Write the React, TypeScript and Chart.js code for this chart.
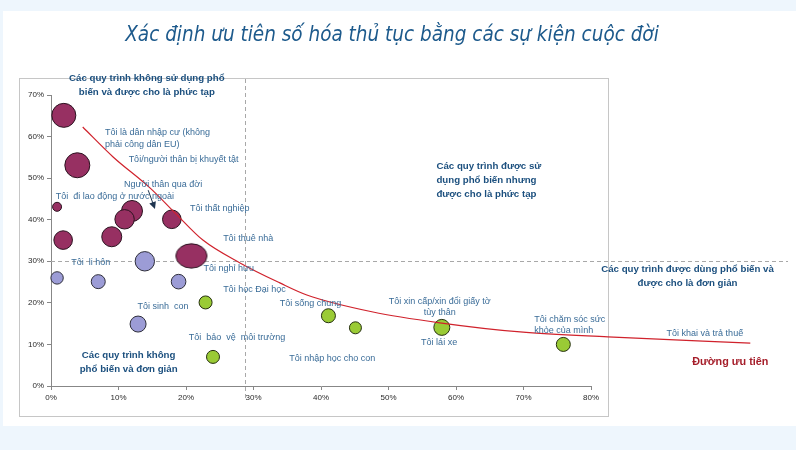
import React, { useEffect, useRef } from "react";
import { Chart, registerables } from "chart.js";

Chart.register(...registerables);

const TITLE = "Xác định ưu tiên số hóa thủ tục bằng các sự kiện cuộc đời";

// Processes seen as complex (maroon)
const complexX = [1.9, 3.9, 0.9, 12.0, 10.9, 17.9, 1.8, 9.0, 20.8];
const complexY = [65.1, 53.1, 43.1, 42.1, 40.1, 40.1, 35.1, 35.9, 31.3];
const complexR = [12, 12.5, 4.5, 10.5, 9.7, 9.3, 9.3, 10, 13.5];
const RETIREMENT_INDEX = 8; // drawn as a wide bubble

// Rare, mid processes (lavender)
const rareX = [0.9, 7.0, 13.9, 18.9, 12.9];
const rareY = [26.0, 25.1, 30.0, 25.1, 14.9];
const rareR = [6.2, 7, 9.7, 7.3, 8];

// Simple processes (green)
const simpleX = [22.9, 24.0, 41.1, 45.1, 57.9, 75.9];
const simpleY = [20.1, 7.0, 16.9, 14.0, 14.1, 10.0];
const simpleR = [6.5, 6.5, 7, 6, 8, 7];

// Priority curve
const curveX = [4.7, 9.2, 14.7, 18.4, 22.5, 28.0, 33.9, 37.9, 47.7, 57.6, 69.5, 82.5, 103.6];
const curveY = [62.3, 55.1, 47.6, 41.6, 35.1, 29.6, 24.8, 21.9, 17.8, 15.2, 13.0, 11.8, 10.3];

// Axis ranges / tick step
const X_MAX = 80;
const Y_MAX = 70;
const TICK_STEP = 10;

// Quadrant dividers
const DIVIDER_X = 28.8;
const DIVIDER_Y = 30;

// Event labels
const eventLabels = [
  "Tôi là dân nhập cư (không\nphải công dân EU)",
  "Tôi/người thân bị khuyết tật",
  "Người thân qua đời",
  "Tôi  đi lao động ở nước ngoài",
  "Tôi thất nghiệp",
  "Tôi thuê nhà",
  "Tôi nghỉ hưu",
  "Tôi học Đại học",
  "Tôi  li hôn",
  "Tôi sinh  con",
  "Tôi  bảo  vệ  môi trường",
  "Tôi sống chung",
  "Tôi nhập học cho con",
  "Tôi xin cấp/xin đổi giấy tờ\ntùy thân",
  "Tôi lái xe",
  "Tôi chăm sóc sức\nkhỏe của mình",
  "Tôi khai và trả thuế",
];
const eventLabelX = [8.0, 11.5, 10.8, 0.7, 20.6, 25.5, 22.6, 25.5, 3.0, 12.8, 20.4, 33.9, 35.3, 57.6, 57.5, 71.6, 91.2];
const eventLabelY = [60.9, 54.4, 48.4, 45.5, 42.7, 35.4, 28.3, 23.3, 29.7, 19.2, 11.7, 19.9, 6.7, 20.3, 10.4, 16.1, 12.6];
const eventLabelAlign = ["left", "left", "left", "left", "left", "left", "left", "left", "left", "left", "left", "left", "left", "center", "center", "left", "left"];

// Quadrant labels
const quadrantLabels = [
  "Các quy trình không sử dụng phổ\nbiến và được cho là phức tạp",
  "Các quy trình được sử\ndụng phổ biến nhưng\nđược cho là phức tạp",
  "Các quy trình được dùng phổ biến và\nđược cho là đơn giản",
  "Các quy trình không\nphổ biến và đơn giản",
];
const quadrantX = [14.2, 57.1, 94.3, 11.5];
const quadrantY = [74.1, 52.9, 28.1, 7.3];
const quadrantAlign = ["center", "left", "center", "center"];

const CURVE_LABEL = "Đường ưu tiên";
const CURVE_LABEL_X = 95.0;
const CURVE_LABEL_Y = 5.8;

// Arrow from "Người thân qua đời"
const arrowFrom = [14.4, 47.1];
const arrowTo = [15.4, 42.6];

const SANS = '"Liberation Sans", Arial, sans-serif';
const TITLE_FONT = '"DejaVu Sans Condensed", "DejaVu Sans", sans-serif';

const COMPLEX_FILL = "#973062";
const COMPLEX_BORDER = "#2b1320";

function drawLines(ctx: CanvasRenderingContext2D, text: string, px: number, py: number, lh: number) {
  text.split("\n").forEach((line, i) => ctx.fillText(line, px, py + i * lh));
}

function makeEllipse(r: number): HTMLCanvasElement {
  const rx = r * 1.15, ry = r * 0.9;
  const c = document.createElement("canvas");
  c.width = 2 * Math.ceil(rx + 1);
  c.height = 2 * Math.ceil(ry + 1);
  const g = c.getContext("2d")!;
  g.globalAlpha = 1;
  g.beginPath();
  g.ellipse(c.width / 2, c.height / 2, rx, ry, 0, 0, Math.PI * 2);
  g.fillStyle = COMPLEX_FILL;
  g.fill();
  g.lineWidth = 1;
  g.strokeStyle = COMPLEX_BORDER;
  g.stroke();
  return c;
}

const decorPlugin = {
  id: "decor",
  beforeDraw(chart: any) {
    const { ctx, width, height } = chart;
    ctx.save();
    ctx.fillStyle = "#eef6fd";
    ctx.fillRect(0, 0, width, height);
    ctx.fillStyle = "#ffffff";
    ctx.fillRect(3, 11, width - 3, 415);
    ctx.strokeStyle = "#c6c6c6";
    ctx.lineWidth = 1;
    ctx.strokeRect(19.5, 78.5, 589, 338);
    // title
    ctx.fillStyle = "#1d5a8c";
    ctx.font = `italic 20.5px ${TITLE_FONT}`;
    ctx.textAlign = "center";
    ctx.textBaseline = "middle";
    ctx.fillText(TITLE, 392, 36);
    ctx.restore();
  },
  beforeDatasetsDraw(chart: any) {
    const { ctx, scales } = chart;
    const xs = scales.x, ys = scales.y;
    ctx.save();
    ctx.strokeStyle = "#a8a8a8";
    ctx.lineWidth = 1;
    ctx.setLineDash([4, 3]);
    const vx = Math.round(xs.getPixelForValue(DIVIDER_X)) + 0.5;
    ctx.beginPath();
    ctx.moveTo(vx, 79);
    ctx.lineTo(vx, ys.bottom + 14);
    ctx.stroke();
    const hy = Math.round(ys.getPixelForValue(DIVIDER_Y)) + 0.5;
    ctx.beginPath();
    ctx.moveTo(xs.left, hy);
    ctx.lineTo(788, hy);
    ctx.stroke();
    ctx.restore();
  },
  afterDatasetsDraw(chart: any) {
    const { ctx, scales } = chart;
    const xs = scales.x, ys = scales.y;
    ctx.save();
    ctx.textBaseline = "middle";
    // event labels
    ctx.fillStyle = "#3a6c98";
    ctx.font = `9px ${SANS}`;
    eventLabels.forEach((t, i) => {
      ctx.textAlign = eventLabelAlign[i] as CanvasTextAlign;
      drawLines(ctx, t, xs.getPixelForValue(eventLabelX[i]), ys.getPixelForValue(eventLabelY[i]), 11.3);
    });
    // quadrant labels
    ctx.fillStyle = "#1b4f7e";
    ctx.font = `bold 9.7px ${SANS}`;
    quadrantLabels.forEach((t, i) => {
      ctx.textAlign = quadrantAlign[i] as CanvasTextAlign;
      drawLines(ctx, t, xs.getPixelForValue(quadrantX[i]), ys.getPixelForValue(quadrantY[i]), 14);
    });
    // curve label
    ctx.fillStyle = "#a51d29";
    ctx.font = `bold 10.8px ${SANS}`;
    ctx.textAlign = "left";
    ctx.fillText(CURVE_LABEL, xs.getPixelForValue(CURVE_LABEL_X), ys.getPixelForValue(CURVE_LABEL_Y));
    // arrow
    const x1 = xs.getPixelForValue(arrowFrom[0]), y1 = ys.getPixelForValue(arrowFrom[1]);
    const x2 = xs.getPixelForValue(arrowTo[0]), y2 = ys.getPixelForValue(arrowTo[1]);
    const ang = Math.atan2(y2 - y1, x2 - x1);
    ctx.strokeStyle = "#1e3550";
    ctx.fillStyle = "#1e3550";
    ctx.lineWidth = 1;
    ctx.beginPath();
    ctx.moveTo(x1, y1);
    ctx.lineTo(x2 - 4 * Math.cos(ang), y2 - 4 * Math.sin(ang));
    ctx.stroke();
    ctx.beginPath();
    ctx.moveTo(x2, y2);
    ctx.lineTo(x2 - 7 * Math.cos(ang) + 3.5 * Math.sin(ang), y2 - 7 * Math.sin(ang) - 3.5 * Math.cos(ang));
    ctx.lineTo(x2 - 7 * Math.cos(ang) - 3.5 * Math.sin(ang), y2 - 7 * Math.sin(ang) + 3.5 * Math.cos(ang));
    ctx.closePath();
    ctx.fill();
    ctx.restore();
  },
};

function toPoints(xs: number[], ys: number[], rs?: number[]) {
  return xs.map((x, i) => (rs ? { x, y: ys[i], r: rs[i] } : { x, y: ys[i] }));
}

export default function App() {
  const ref = useRef<HTMLCanvasElement | null>(null);

  useEffect(() => {
    if (!ref.current) return;
    const axisColor = "#878787";
    const wide = makeEllipse(complexR[RETIREMENT_INDEX]);
    const chart = new Chart(ref.current, {
      type: "bubble",
      data: {
        datasets: [
          {
            type: "line",
            label: "Đường ưu tiên",
            data: toPoints(curveX, curveY),
            borderColor: "#d0222c",
            borderWidth: 1.2,
            pointRadius: 0,
            cubicInterpolationMode: "monotone",
            fill: false,
            clip: false,
            order: 0,
          } as any,
          {
            label: "Phức tạp",
            data: toPoints(complexX, complexY, complexR),
            backgroundColor: COMPLEX_FILL,
            borderColor: COMPLEX_BORDER,
            borderWidth: 1,
            pointStyle: (c: any) => (c.dataIndex === RETIREMENT_INDEX ? wide : "circle"),
            clip: false,
            order: 1,
          } as any,
          {
            label: "Không phổ biến",
            data: toPoints(rareX, rareY, rareR),
            backgroundColor: "#9c9cd6",
            borderColor: "#2e2e3a",
            borderWidth: 1,
            clip: false,
            order: 1,
          },
          {
            label: "Đơn giản",
            data: toPoints(simpleX, simpleY, simpleR),
            backgroundColor: "#9acb35",
            borderColor: "#263010",
            borderWidth: 1,
            clip: false,
            order: 1,
          },
        ],
      },
      options: {
        animation: false,
        responsive: false,
        devicePixelRatio: 1,
        layout: { padding: { left: 16, right: 205, top: 95, bottom: 44 } },
        plugins: {
          legend: { display: false },
          tooltip: { enabled: false },
          title: { display: false },
        },
        scales: {
          x: {
            type: "linear",
            afterDataLimits: (s: any) => { s.min = 0; s.max = X_MAX; },
            afterFit: (s: any) => { s.height = 20; },
            ticks: {
              stepSize: TICK_STEP,
              autoSkip: false,
              maxRotation: 0,
              padding: 3,
              color: "#2a2a2a",
              font: { family: SANS, size: 8 },
              callback: (v: any) => v + "%",
            },
            grid: { drawOnChartArea: false, drawTicks: true, tickLength: 4, color: axisColor },
            border: { display: true, color: axisColor },
          },
          y: {
            type: "linear",
            min: 0,
            max: Y_MAX,
            afterFit: (s: any) => { s.width = 35; },
            ticks: {
              stepSize: TICK_STEP,
              autoSkip: false,
              padding: 3,
              color: "#2a2a2a",
              font: { family: SANS, size: 8 },
              callback: (v: any) => v + "%",
            },
            grid: { drawOnChartArea: false, drawTicks: true, tickLength: 4, color: axisColor },
            border: { display: true, color: axisColor },
          },
        },
      } as any,
      plugins: [decorPlugin],
    });
    return () => chart.destroy();
  }, []);

  return (
    <div style={{ position: "fixed", left: 0, top: 0, width: 796, height: 450 }}>
      <canvas ref={ref} width={796} height={450} style={{ display: "block", width: 796, height: 450 }} />
    </div>
  );
}
